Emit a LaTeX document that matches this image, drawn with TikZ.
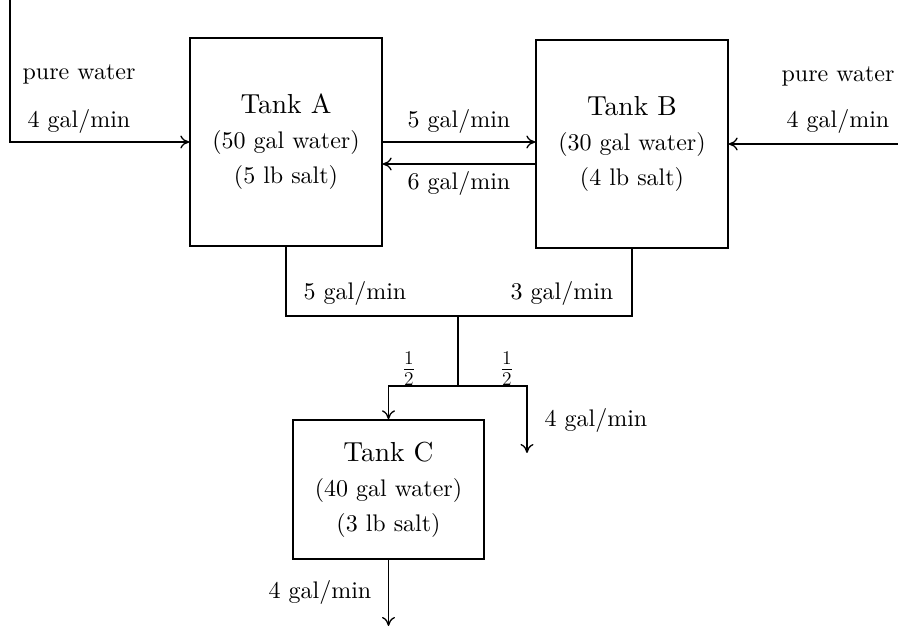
\documentclass[tikz,border=0pt]{standalone}
\usepackage{fontspec}
\setmainfont{lmroman10-regular}[Extension=.otf]
\usetikzlibrary{arrows.meta}
\tikzset{
  tank/.style={draw, line width=1.3pt, align=center, inner sep=0pt,
    font=\fontsize{24}{35}\selectfont},
  pipe/.style={line width=1.3pt},
  flow/.style={line width=1.3pt, -{To[length=9pt,width=13pt]}},
  lbl/.style={font=\fontsize{24}{28}\selectfont, inner sep=0pt, anchor=base},
  frac/.style={font=\fontsize{22}{26}\selectfont, inner sep=0pt, scale=1.35}
}
\newcommand{\tanktitle}[1]{{\fontsize{27.5}{35}\selectfont #1}}
\begin{document}
\begin{tikzpicture}[x=1pt,y=-1pt]
\useasboundingbox (0,0) rectangle (898,628);
% tanks
\node[tank, minimum width=192pt, minimum height=208pt] (A) at (286,142)
  {\tanktitle{Tank A}\\(50 gal water)\\(5 lb salt)};
\node[tank, minimum width=192pt, minimum height=208pt] (B) at (632,144)
  {\tanktitle{Tank B}\\(30 gal water)\\(4 lb salt)};
\node[tank, minimum width=191pt, minimum height=139pt] (C) at (388.5,489.5)
  {\tanktitle{Tank C}\\(40 gal water)\\(3 lb salt)};
% helper coordinates
\coordinate (inL) at (10,0);
\coordinate (inR) at (898,144);
\coordinate (jn) at (458,316);
\coordinate (split) at (458,386);
\coordinate (outR) at (527,453);
\coordinate (outC) at (388.5,626);
% pipes
\draw[flow] (inL) |- (A.west);
\draw[flow] (inR) -- (B.east);
\draw[flow] (A.east) -- (A.east -| B.west);
\draw[flow] ([yshift=-22pt]A.east -| B.west) -- ([yshift=-22pt]A.east);
\draw[pipe] (A.south) |- (jn) -| (B.south);
\draw[pipe] (jn) -- (split);
\draw[flow] (split) -| (C.north);
\draw[flow] (split) -| (outR);
\draw[flow] (C.south) -- (outC);
% labels
\node[lbl] (lpw) at (79,80) {pure water};
\node[lbl] (lr1) at (79,128) {4 gal/min};
\node[lbl] (rpw) at (838,82) {pure water};
\node[lbl] (rr1) at (838,128) {4 gal/min};
\node[lbl] (ab) at (459,128) {5 gal/min};
\node[lbl] (ba) at (459,190) {6 gal/min};
\node[lbl] (ad) at (355,300) {5 gal/min};
\node[lbl] (bd) at (562,300) {3 gal/min};
\node[frac] (h1) at (409,369) {$\frac{1}{2}$};
\node[frac] (h2) at (507,369) {$\frac{1}{2}$};
\node[lbl] (or) at (596,427) {4 gal/min};
\node[lbl] (oc) at (320,598) {4 gal/min};
\end{tikzpicture}
\end{document}
